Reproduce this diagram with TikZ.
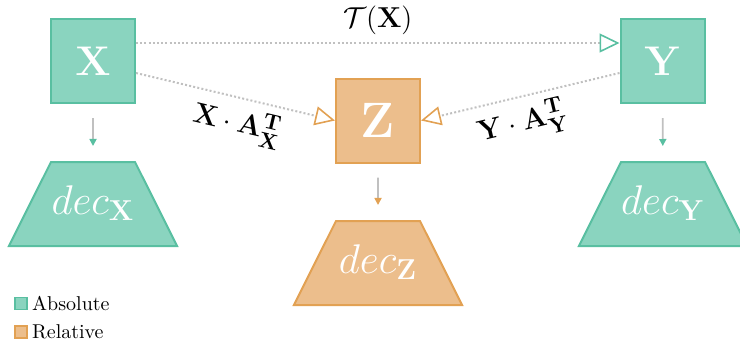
\documentclass[tikz,border=0pt]{standalone}
\usepackage{amsmath}
\usepackage{amssymb}
\usepackage{xcolor}
\usepackage{tikz}
\usetikzlibrary{arrows.meta,shapes.geometric,positioning}

\definecolor{absfill}{RGB}{138,212,191}
\definecolor{absline}{RGB}{89,191,161}
\definecolor{relfill}{RGB}{236,190,140}
\definecolor{relline}{RGB}{226,161,83}
\definecolor{lgray}{RGB}{192,192,192}

\newcommand{\declabel}[1]{\makebox[42pt]{$dec_{\mathbf{#1}}$}}

\begin{document}
\begin{tikzpicture}[x=0.5pt,y=-0.5pt,
  latent/.style={rectangle,draw=#1line,fill=#1fill,line width=1pt,minimum size=42pt,inner sep=0pt,text=white},
  decoder/.style={trapezium,trapezium angle=63.4,draw=#1line,fill=#1fill,line width=1pt,
    inner xsep=0pt,inner ysep=0pt,text height=26pt,text depth=16pt,text=white,font=\fontsize{20.5}{24}\selectfont},
  down/.style={draw=lgray,line width=0.8pt,-{Triangle[length=3.5pt,width=3.5pt,color=#1line]},shorten <=7pt,shorten >=7.5pt},
  link/.style={draw=lgray,line width=1pt,dash pattern=on 1pt off 1.1pt,
    -{Triangle[open,length=10pt,width=9.5pt,line width=0.8pt,color=#1line]}},
  proj/.style={sloped,font=\fontsize{15.5}{18}\selectfont},
  legbox/.style={rectangle,draw=#1line,fill=#1fill,line width=0.8pt,minimum size=6pt,inner sep=0pt}]
  \useasboundingbox (0,0) rectangle (740,345);

  % spaces
  \node[latent=abs,font=\fontsize{22}{26}\selectfont] (X) at (93,61) {$\mathbf{X}$};
  \node[latent=abs,font=\fontsize{22}{26}\selectfont] (Y) at (662.5,61) {$\mathbf{Y}$};
  \node[latent=rel,font=\fontsize{30}{34}\selectfont] (Z) at (378,120.5) {$\mathbf{Z}$};

  % decoders
  \node[decoder=abs] (decX) at (93,204) {\declabel{X}};
  \node[decoder=abs] (decY) at (663,204) {\declabel{Y}};
  \node[decoder=rel] (decZ) at (378,263) {\declabel{Z}};

  \draw[down=abs] (X) -- (decX);
  \draw[down=abs] (Y) -- (decY);
  \draw[down=rel] (Z) -- (decZ);

  % projections
  \draw[link=abs] ([yshift=9pt]X.east) -- node[midway,above=0.5pt,font=\fontsize{13.5}{16}\selectfont] (tx) {$\mathcal{T}(\mathbf{X})$} ([yshift=9pt]Y.west);
  \draw[link=rel] ([yshift=-6pt]X.east) -- node[proj,pos=0.54,below=0.5pt] (ax) {$\mathbf{X}\cdot\mathbf{A}_{\mathbf{X}}^{\mathbf{T}}$} (Z.west);
  \draw[link=rel] ([yshift=-6pt]Y.west) -- node[proj,pos=0.52,below=0.5pt] (ay) {$\mathbf{Y}\cdot\mathbf{A}_{\mathbf{Y}}^{\mathbf{T}}$} (Z.east);

  % legend
  \node[legbox=abs] (legA) at (21,303.5) {};
  \node[right=1pt of legA,inner sep=1pt] (legAtxt) {Absolute};
  \node[legbox=rel] (legR) at (21,332) {};
  \node[right=1pt of legR,inner sep=1pt] (legRtxt) {Relative};
\end{tikzpicture}
\end{document}
